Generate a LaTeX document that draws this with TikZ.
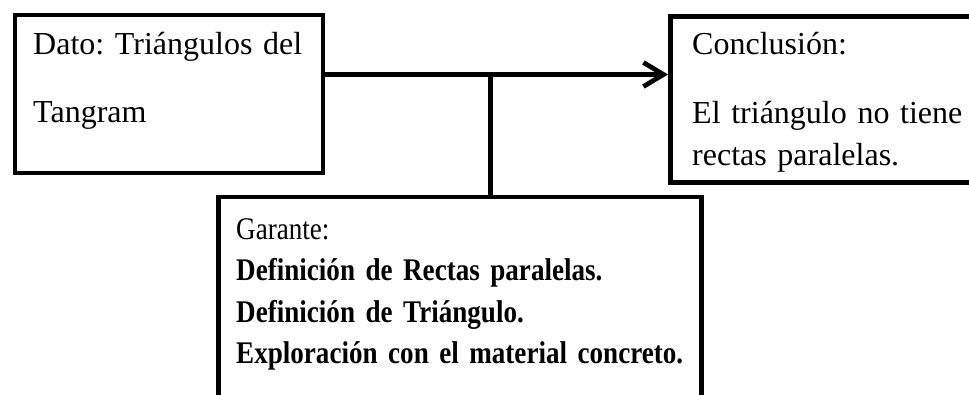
\documentclass[tikz,border=0pt]{standalone}
\usepackage{fontspec}
\setmainfont{Liberation Serif}
\newfontfamily\garantefont[FakeStretch=0.86,WordSpace=0.7]{Liberation Serif}
\usetikzlibrary{arrows.meta}
\frenchspacing

\begin{document}
\begin{tikzpicture}[x=1pt,y=-1pt,
  caja/.style={draw,line width=4.7pt,anchor=north west,inner sep=0pt},
  texto/.style={anchor=base west,inner sep=0pt,align=left}]
  \useasboundingbox (0,0) rectangle (969,394);
  \clip (0,0) rectangle (969,394);

  \node[caja,minimum width=308pt,minimum height=158pt] (dato) at (12.5,12.7) {};
  \node[caja,minimum width=312pt,minimum height=166pt] (concl) at (668,14) {};
  \node[caja,minimum width=483pt,minimum height=215pt] (garante) at (216,194.5) {};

  \node[texto,text width=290pt,font=\fontsize{32}{68}\selectfont] (datotxt)
    at ([xshift=20.5pt,yshift=-41.5pt]dato.north west) {Dato: Triángulos del\\Tangram};
  \node[texto,text width=285pt,font=\fontsize{32}{42}\selectfont] (concltxt)
    at ([xshift=24pt,yshift=-40pt]concl.north west) {Conclusión:\\[27pt]El triángulo no tiene\\rectas paralelas.};
  \node[texto,text width=460pt,font=\garantefont\fontsize{31.5}{41.3}\selectfont] (garantetxt)
    at ([xshift=20pt,yshift=-45pt]garante.north west) {Garante:\\\textbf{Definición de Rectas paralelas.}\\\textbf{Definición de Triángulo.}\\\textbf{Exploración con el material concreto.}};

  \coordinate (union) at (490.5,74.5);
  \draw[line width=4.7pt,-{Straight Barb[length=20pt,width=24pt]}] (dato.east |- union) -- (concl.west |- union);
  \draw[line width=4.7pt] (union) -- (union |- garante.north);
\end{tikzpicture}
\end{document}
